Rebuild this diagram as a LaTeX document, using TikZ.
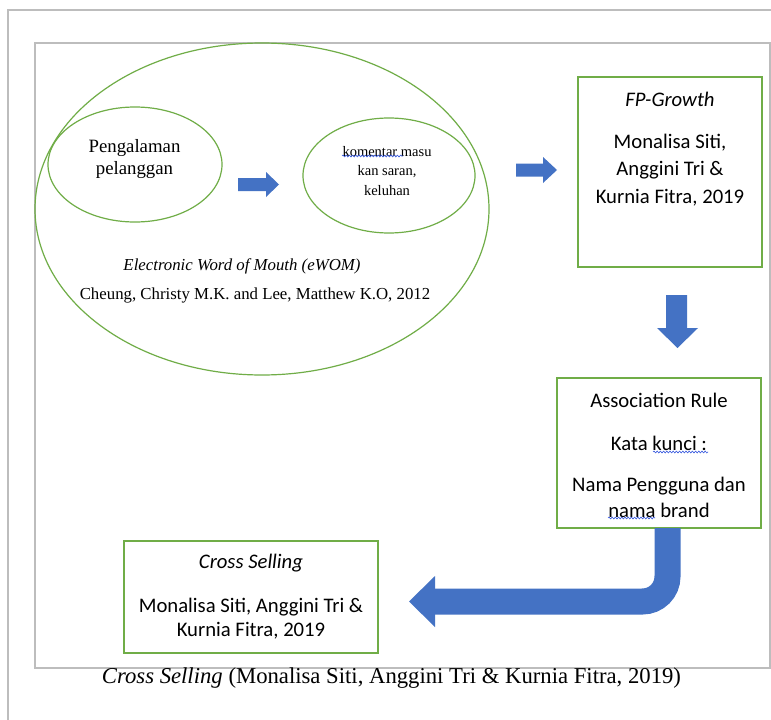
\documentclass[tikz,border=0pt]{standalone}
\usepackage{fontspec}
\setmainfont{Liberation Serif}
\newfontfamily\calibri{Carlito}
\usetikzlibrary{shapes.geometric,decorations.pathmorphing}
\definecolor{ogreen}{HTML}{70AD47}
\definecolor{oblue}{HTML}{4472C4}
\definecolor{framegray}{HTML}{BDBDBD}
\definecolor{spellblue}{HTML}{3355DD}
\tikzset{
  greenell/.style={ellipse, draw=ogreen, line width=1.2pt, inner sep=0pt},
  greenbox/.style={draw=ogreen, line width=1.3pt, inner sep=0pt},
  blockarrow/.style={fill=oblue, draw=none},
  serifbig/.style={font=\fontsize{18.8}{22}\selectfont, align=center, inner sep=0pt},
  serifmid/.style={font=\fontsize{16.8}{20}\selectfont, align=center, inner sep=0pt},
  serifsmall/.style={font=\fontsize{14.5}{19.5}\selectfont, align=center, inner sep=0pt},
  caltext/.style={font=\calibri\fontsize{20.7}{27.5}\selectfont, align=center, inner sep=0pt},
  spell/.style={spellblue, line width=0.6pt, decorate, decoration={snake, amplitude=0.9pt, segment length=3.2pt}},
  framestyle/.style={draw=framegray, line width=1.3pt}
}
\begin{document}
\begin{tikzpicture}[x=1pt,y=-1pt]
\useasboundingbox (0,0) rectangle (771,720);
\fill[white] (0,0) rectangle (771,720);
% page frames
\draw[framestyle] (8,720) -- (8,10) -- (771,10);
\draw[framestyle] (35,43) rectangle (770,668);

% eWOM ellipses
\node[greenell, minimum width=454pt, minimum height=332pt] (ewom) at (262,209) {};
\node[greenell, minimum width=174pt, minimum height=115pt] (peng) at (135,164.5) {};
\node[greenell, minimum width=172pt, minimum height=115pt] (kom) at (389,175.5) {};

\node[serifbig] (pengtxt) at (134.5,159) {Pengalaman\\pelanggan};
\node[serifsmall] (komtxt) at (387,171) {komentar masu\\kan saran,\\keluhan};
\node[serifmid] (ewomtitle) at (242,266) {\itshape Electronic Word of Mouth (eWOM)};
\node[serifmid] (ewomref) at (255,295) {Cheung, Christy M.K. and Lee, Matthew K.O, 2012};
\draw[spell] (342,156) -- (403,156);

% arrow 1
\fill[blockarrow] (238,178) -- (266,178) -- (266,172) -- (279,184.5) -- (266,197) -- (266,191) -- (238,191) -- cycle;
% arrow 2
\fill[blockarrow] (516,163.5) -- (543,163.5) -- (543,157) -- (557,170) -- (543,183) -- (543,176.5) -- (516,176.5) -- cycle;

% FP-Growth box
\node[greenbox, minimum width=184pt, minimum height=190pt] (fpbox) at (670,172) {};
\node[caltext] (fptitle) at (670,99) {\itshape FP-Growth};
\node[caltext] (fpref) at (670,170) {Monalisa Siti,\\Anggini Tri \&\\Kurnia Fitra, 2019};

% down arrow
\fill[blockarrow] (666,295) -- (687,295) -- (687,328) -- (698,328) -- (677.5,348) -- (657,328) -- (666,328) -- cycle;

% Association rule box
\node[greenbox, minimum width=204pt, minimum height=150pt] (assoc) at (659,453) {};
\node[caltext] (assoctitle) at (659,400) {Association Rule};
\node[caltext] (assockey) at (659,443) {Kata kunci :};
\node[caltext, font=\calibri\fontsize{20.7}{26}\selectfont] (assocval) at (659,497) {Nama Pengguna dan\\nama brand};
\draw[spell] (653,452) -- (708,452);
\draw[spell] (608,518) -- (655,518);

% bent arrow
\draw[oblue, line width=26pt, rounded corners=25pt] (667.5,528) |- (434,601.5);
\fill[blockarrow] (435,576) -- (409,601.5) -- (435,627) -- cycle;

% Cross Selling box
\node[greenbox, minimum width=254pt, minimum height=112pt] (cross) at (251,597) {};
\node[caltext] (crosstitle) at (251,563) {\itshape Cross Selling};
\node[caltext, font=\calibri\fontsize{20.7}{23.5}\selectfont] (crossref) at (251,618.5) {Monalisa Siti, Anggini Tri \&\\Kurnia Fitra, 2019};

% caption
\node[inner sep=0pt, font=\fontsize{22.7}{25}\selectfont] (caption) at (391.5,678) {\textit{Cross Selling} (Monalisa Siti, Anggini Tri \& Kurnia Fitra, 2019)};
\end{tikzpicture}
\end{document}
